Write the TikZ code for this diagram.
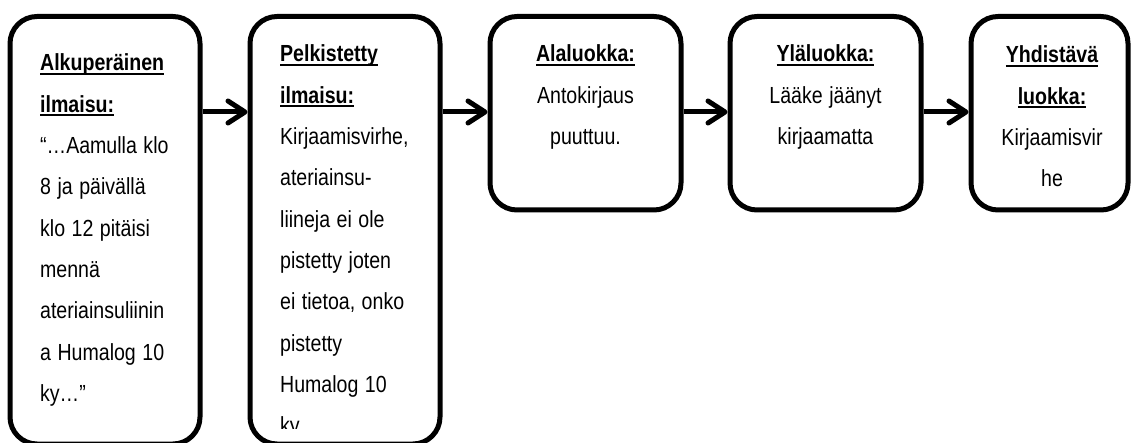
\documentclass[tikz,border=0pt]{standalone}
\usepackage{fontspec}
\setmainfont{Liberation Sans}
\usetikzlibrary{arrows.meta}
% bold heading with a thick underline
\newcommand\hdul[1]{\leavevmode\setbox0\hbox{\bfseries #1}\rlap{\rule[-4pt]{\wd0}{2.4pt}}\box0}
\begin{document}
\begin{tikzpicture}[x=1pt,y=-1pt,
  box/.style={draw, line width=5pt, rounded corners=27pt, inner sep=0pt},
  narrow/.style={font=\fontsize{23.3}{41.3}\selectfont, inner sep=0pt, xscale=0.84, transform shape, text width=220pt},
  txt/.style={narrow, anchor=base west, align=left},
  ctxt/.style={narrow, anchor=base, align=center},
  flow/.style={line width=5pt, -{Straight Barb[length=17pt,width=22pt,round]}}]
\useasboundingbox (0,0) rectangle (1131,443);

% boxes
\node[box, minimum width=190pt, minimum height=427.5pt] (b1) at (105,230.25) {};
\node[box, minimum width=190pt, minimum height=427.5pt] (b2) at (345,230.25) {};
\node[box, minimum width=191pt, minimum height=193.5pt] (b3) at (585.5,113.25) {};
\node[box, minimum width=191pt, minimum height=193.5pt] (b4) at (825.5,113.25) {};
\node[box, minimum width=157pt, minimum height=193.5pt] (b5) at (1049.5,113.25) {};

% texts
\node[txt] (t1) at (40,71) {\hdul{Alkuperäinen}\\ \hdul{ilmaisu:}\\ “…Aamulla klo\\ 8 ja päivällä\\ klo 12 pitäisi\\ mennä\\ ateriainsuliinin\\ a Humalog 10\\ ky…”};
\begin{scope}
  \clip (250,0) rectangle (440,428);
  \node[txt] (t2) at (280,62) {\hdul{Pelkistetty}\\ \hdul{ilmaisu:}\\ Kirjaamisvirhe,\\ ateriainsu-\\ liineja ei ole\\ pistetty joten\\ ei tietoa, onko\\ pistetty\\ Humalog 10\\ ky};
\end{scope}
\node[ctxt] (t3) at (585.5,62) {\hdul{Alaluokka:}\\ Antokirjaus\\ puuttuu.};
\node[ctxt] (t4) at (825.5,62) {\hdul{Yläluokka:}\\ Lääke jäänyt\\ kirjaamatta};
\node[ctxt] (t5) at (1052,63) {\hdul{Yhdistävä}\\ \hdul{luokka:}\\ Kirjaamisvir\\ he};

% connectors
\coordinate (row) at (0,112);
\draw[flow] (b1.east |- row) -- (b2.west |- row);
\draw[flow] (b2.east |- row) -- (b3.west |- row);
\draw[flow] (b3.east |- row) -- (b4.west |- row);
\draw[flow] (b4.east |- row) -- (b5.west |- row);
\end{tikzpicture}
\end{document}
